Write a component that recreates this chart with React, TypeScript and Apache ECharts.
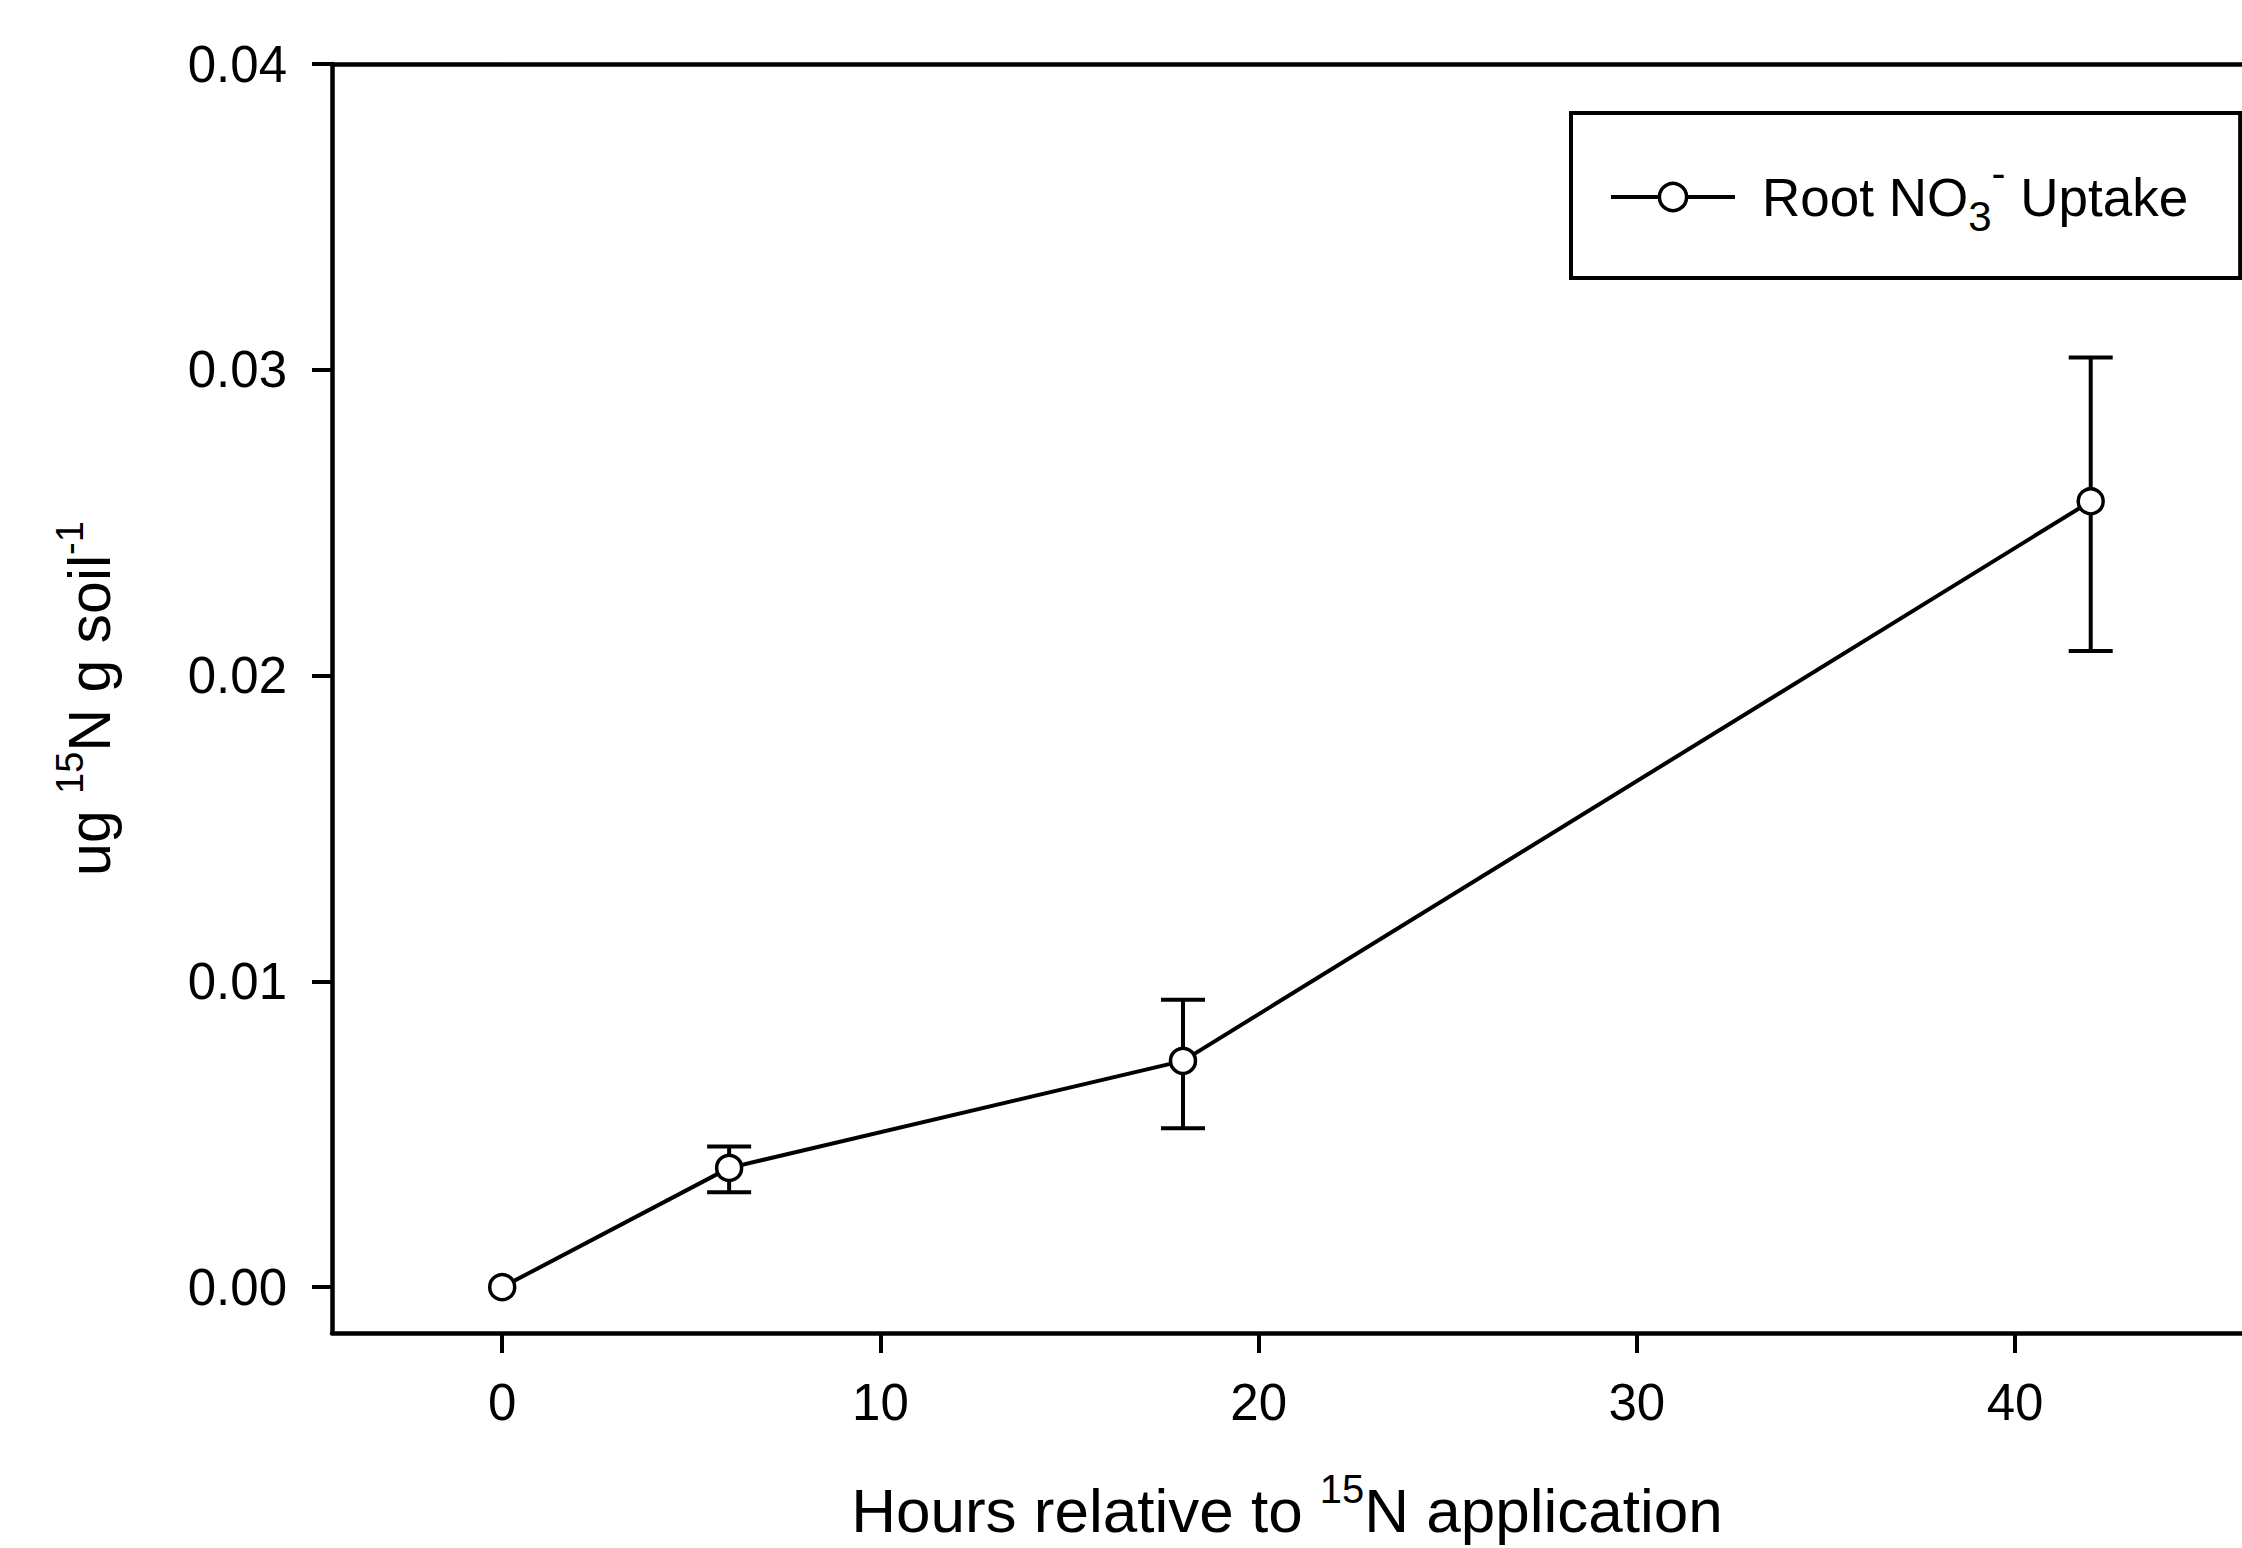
import React, { useEffect, useRef } from "react";
import * as echarts from "echarts";

// ---- data ----
const hours = [0, 6, 18, 42];
const uptake = [0.0, 0.0039, 0.0074, 0.0257];
const errLower = [0.0, 0.0031, 0.0052, 0.0208];
const errUpper = [0.0, 0.0046, 0.0094, 0.0304];
const xTicks = [0, 10, 20, 30, 40];
const yTicks = [0, 0.01, 0.02, 0.03, 0.04];
const seriesName = "Root NO3- Uptake";

const FONT = "'Liberation Sans', Arial, sans-serif";

export default function App() {
  const ref = useRef<HTMLDivElement>(null);

  useEffect(() => {
    if (!ref.current) return;
    const chart = echarts.init(ref.current, undefined, { renderer: "svg" });

    const errData = hours
      .map((h, i) => [h, errLower[i], errUpper[i]])
      .filter((d) => d[2] !== d[1]);

    const option: any = {
      animation: false,
      backgroundColor: "#ffffff",
      textStyle: { fontFamily: FONT, color: "#000" },
      grid: { left: 332, right: 0, top: 64, bottom: 215, containLabel: false },
      legend: {
        show: true,
        data: [seriesName],
        left: 1571,
        top: 113,
        orient: "horizontal",
        borderColor: "#000",
        borderWidth: 4,
        padding: [39, 52, 41, 38],
        itemWidth: 124,
        itemHeight: 34,
        selectedMode: false,
        lineStyle: { width: 4, color: "#000" },
        itemStyle: { color: "#fff", borderColor: "#000", borderWidth: 3.5 },
        formatter: () => "{f|Root NO}{sub|3}{sup|-}{a| Uptake}",
        textStyle: {
          fontFamily: FONT,
          color: "#000",
          fontSize: 53,
          rich: {
            f: { fontFamily: FONT, fontSize: 53, color: "#000", padding: [0, 0, 0, 22] },
            a: { fontFamily: FONT, fontSize: 53, color: "#000" },
            sub: { fontFamily: FONT, fontSize: 42, color: "#000", padding: [38, 0, 0, 0] },
            sup: { fontFamily: FONT, fontSize: 42, color: "#000", padding: [0, 0, 48, 0] },
          },
        },
      },
      xAxis: [
        {
          type: "value",
          min: -4.5,
          max: 46,
          position: "bottom",
          name: "{a|Hours relative to }{sup|15}{a|N application}",
          nameLocation: "middle",
          nameGap: 136,
          nameTextStyle: {
            fontFamily: FONT,
            fontSize: 62,
            color: "#000",
            rich: {
              a: { fontFamily: FONT, fontSize: 62, color: "#000" },
              sup: { fontFamily: FONT, fontSize: 40, color: "#000", padding: [0, 0, 42, 0] },
            },
          },
          axisLine: { show: true, onZero: false, lineStyle: { color: "#000", width: 4.5 } },
          axisTick: { show: true, length: 20, lineStyle: { color: "#000", width: 4 }, customValues: xTicks },
          axisLabel: {
            show: true,
            fontFamily: FONT,
            fontSize: 51,
            color: "#000",
            margin: 44,
            customValues: xTicks,
          },
          splitLine: { show: false },
        },
        {
          type: "value",
          min: -4.5,
          max: 46,
          position: "top",
          axisLine: { show: true, onZero: false, lineStyle: { color: "#000", width: 4.5 } },
          axisTick: { show: false },
          axisLabel: { show: false },
          splitLine: { show: false },
        },
      ],
      yAxis: {
        type: "value",
        min: -0.0015,
        max: 0.04,
        name: "{a|ug }{sup|15}{a|N g soil}{sup|-1}",
        nameLocation: "middle",
        nameGap: 203,
        nameRotate: 90,
        nameTextStyle: {
          fontFamily: FONT,
          fontSize: 59,
          color: "#000",
          rich: {
            a: { fontFamily: FONT, fontSize: 59, color: "#000" },
            sup: { fontFamily: FONT, fontSize: 38, color: "#000", padding: [0, 0, 40, 0] },
          },
        },
        axisLine: { show: true, onZero: false, lineStyle: { color: "#000", width: 4.5 } },
        axisTick: { show: true, length: 20, lineStyle: { color: "#000", width: 4 }, customValues: yTicks },
        axisLabel: {
          show: true,
          fontFamily: FONT,
          fontSize: 51,
          color: "#000",
          margin: 45,
          customValues: yTicks,
          formatter: (v: number) => v.toFixed(2),
        },
        splitLine: { show: false },
      },
      series: [
        {
          type: "custom",
          name: "errorbars",
          xAxisIndex: 0,
          yAxisIndex: 0,
          z: 1,
          silent: true,
          encode: { x: 0, y: [1, 2] },
          data: errData,
          renderItem: (params: any, api: any) => {
            const x = api.value(0);
            const lo = api.value(1);
            const hi = api.value(2);
            const pHi = api.coord([x, hi]);
            const pLo = api.coord([x, lo]);
            const half = 22;
            const style = { stroke: "#000", lineWidth: 4 };
            return {
              type: "group",
              children: [
                { type: "line", shape: { x1: pHi[0], y1: pHi[1], x2: pLo[0], y2: pLo[1] }, style },
                { type: "line", shape: { x1: pHi[0] - half, y1: pHi[1], x2: pHi[0] + half, y2: pHi[1] }, style },
                { type: "line", shape: { x1: pLo[0] - half, y1: pLo[1], x2: pLo[0] + half, y2: pLo[1] }, style },
              ],
            };
          },
        },
        {
          type: "line",
          name: seriesName,
          xAxisIndex: 0,
          yAxisIndex: 0,
          z: 3,
          data: hours.map((h, i) => [h, uptake[i]]),
          symbol: "circle",
          symbolSize: 25,
          showSymbol: true,
          lineStyle: { color: "#000", width: 4 },
          itemStyle: { color: "#fff", borderColor: "#000", borderWidth: 3.5 },
          emphasis: { disabled: true },
        },
      ],
    };

    chart.setOption(option);
    return () => chart.dispose();
  }, []);

  return (
    <div
      ref={ref}
      style={{ position: "fixed", left: 0, top: 0, width: 2242, height: 1548, background: "#fff" }}
    />
  );
}
